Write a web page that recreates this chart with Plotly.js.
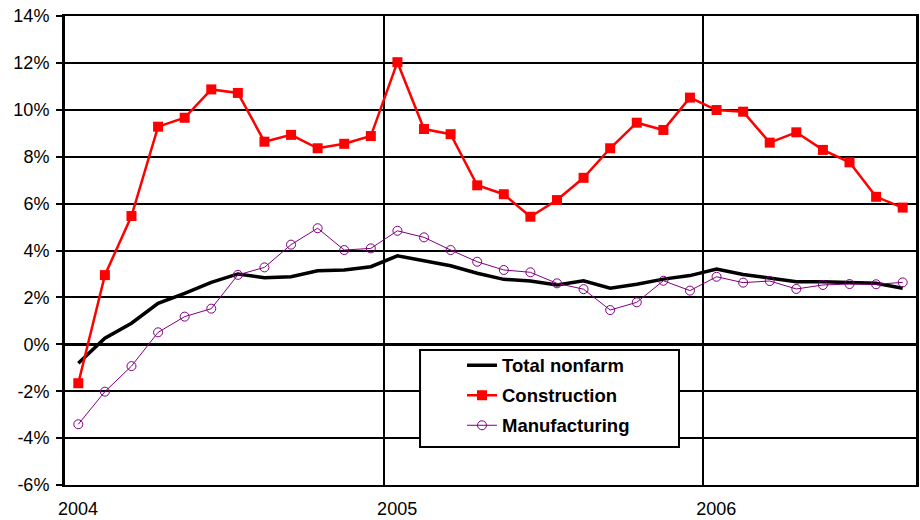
<!DOCTYPE html>
<html><head><meta charset="utf-8">
<script src="https://cdn.plot.ly/plotly-3.0.1.min.js"></script>
<style>html,body{margin:0;padding:0;background:#fff}#chart{width:920px;height:520px}</style>
</head><body><div id="chart"></div>
<script>
const months = ['Jan 2004','Feb 2004','Mar 2004','Apr 2004','May 2004','Jun 2004','Jul 2004','Aug 2004','Sep 2004','Oct 2004','Nov 2004','Dec 2004',
  'Jan 2005','Feb 2005','Mar 2005','Apr 2005','May 2005','Jun 2005','Jul 2005','Aug 2005','Sep 2005','Oct 2005','Nov 2005','Dec 2005',
  'Jan 2006','Feb 2006','Mar 2006','Apr 2006','May 2006','Jun 2006','Jul 2006','Aug 2006'];
const yearTickIndex = [0, 12, 24];
const yearLabels = ['2004', '2005', '2006'];
const yTickValues = [-6, -4, -2, 0, 2, 4, 6, 8, 10, 12, 14];
const yTickLabels = ['-6%', '-4%', '-2%', '0%', '2%', '4%', '6%', '8%', '10%', '12%', '14%'];

const totalNonfarm = [-0.81, 0.26, 0.90, 1.75, 2.17, 2.64, 3.00, 2.84, 2.88, 3.14, 3.17, 3.31,
  3.77, 3.57, 3.35, 3.03, 2.77, 2.70, 2.53, 2.71, 2.39, 2.56, 2.78, 2.93,
  3.21, 2.98, 2.84, 2.67, 2.67, 2.63, 2.60, 2.39];
const construction = [-1.66, 2.95, 5.47, 9.28, 9.66, 10.87, 10.72, 8.64, 8.93, 8.36, 8.55, 8.88,
  12.03, 9.18, 8.96, 6.78, 6.40, 5.44, 6.15, 7.10, 8.36, 9.45, 9.14, 10.52,
  9.99, 9.92, 8.60, 9.04, 8.29, 7.76, 6.29, 5.83];
const manufacturing = [-3.41, -2.02, -0.93, 0.51, 1.18, 1.52, 2.96, 3.28, 4.25, 4.95, 4.02, 4.09,
  4.84, 4.56, 4.02, 3.52, 3.17, 3.07, 2.60, 2.35, 1.46, 1.79, 2.71, 2.29,
  2.88, 2.63, 2.70, 2.36, 2.53, 2.57, 2.56, 2.64];

// each month occupies one unit; points sit at the centre of their month
const xPos = months.map((m, i) => i + 0.5);
const FONT = 'Liberation Sans, Arial, sans-serif';

const traces = [
  {x: xPos, y: totalNonfarm, text: months, name: 'Total nonfarm', type: 'scatter', mode: 'lines',
   line: {color: '#000000', width: 3.5}, legendgroup: 'a'},
  {x: xPos, y: construction, text: months, name: 'Construction', type: 'scatter', mode: 'lines+markers',
   line: {color: '#FF0000', width: 2.5}, marker: {symbol: 'square', size: 10, color: '#FF0000'}, legendgroup: 'b'},
  {x: xPos, y: manufacturing, text: months, name: 'Manufacturing', type: 'scatter', mode: 'lines+markers',
   line: {color: '#800080', width: 1}, marker: {symbol: 'circle-open', size: 9, color: '#800080', line: {width: 1, color: '#800080'}}, legendgroup: 'c'}
];

const layout = {
  width: 920, height: 520,
  margin: {l: 65, r: 4, t: 16, b: 35},
  paper_bgcolor: '#ffffff', plot_bgcolor: '#ffffff',
  font: {family: FONT, color: '#000000', size: 18},
  showlegend: true,
  legend: {x: 0.4665, xanchor: 'left', y: 0.295, yanchor: 'top', bgcolor: 'rgba(0,0,0,0)', borderwidth: 0,
    font: {family: FONT, size: 18.5, color: '#000000', weight: 'bold'}, tracegroupgap: 3},
  xaxis: {range: [0, months.length], tickmode: 'array', tickvals: yearTickIndex, ticktext: yearLabels,
    ticklabelshift: 13, ticklabelstandoff: 6, ticks: '', showgrid: true, gridcolor: '#000000', gridwidth: 2,
    zeroline: false, showline: true, mirror: true, linecolor: '#000000', linewidth: 2,
    tickfont: {family: FONT, size: 18, color: '#000000'}, fixedrange: true},
  yaxis: {range: [-6, 14], tickmode: 'array', tickvals: yTickValues, ticktext: yTickLabels,
    ticks: 'outside', ticklen: 6, tickwidth: 2, tickcolor: '#000000', ticklabelstandoff: 3,
    showgrid: true, gridcolor: '#000000', gridwidth: 2,
    zeroline: true, zerolinecolor: '#000000', zerolinewidth: 3.5,
    showline: true, mirror: true, linecolor: '#000000', linewidth: 3,
    tickfont: {family: FONT, size: 18, color: '#000000'}, fixedrange: true},
  shapes: [
    {type: 'rect', xref: 'paper', yref: 'paper', x0: 0.4172, x1: 0.7215, y0: 0.081, y1: 0.2878,
     fillcolor: '#ffffff', line: {color: '#000000', width: 2}, layer: 'above'}
  ]
};

Plotly.newPlot('chart', traces, layout, {staticPlot: true, displayModeBar: false});
</script>
</body></html>
